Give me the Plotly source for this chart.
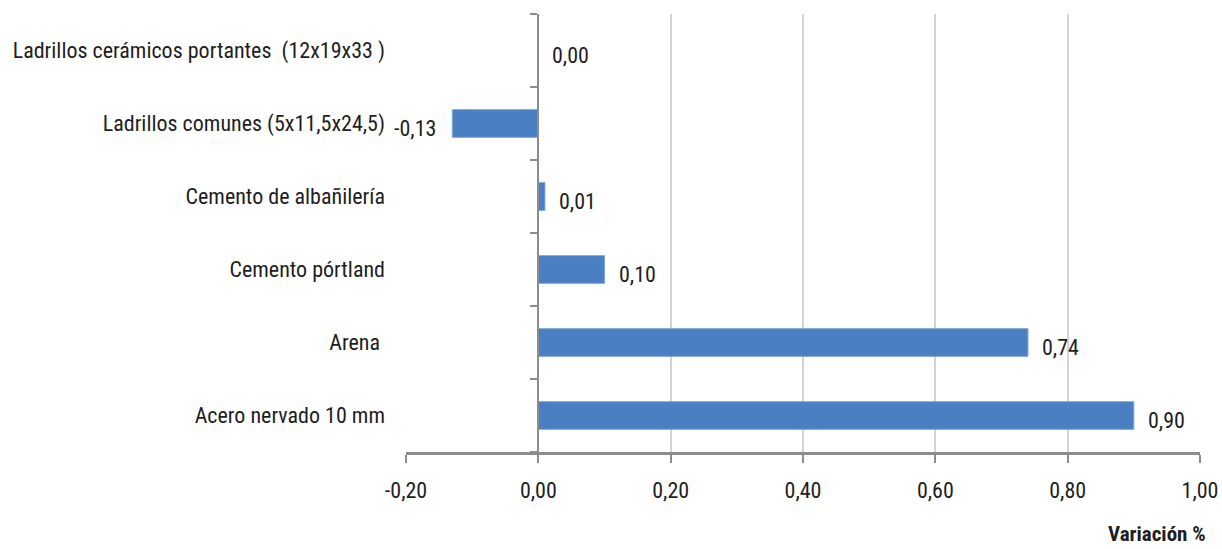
import plotly.graph_objects as go

categories = [
    "Ladrillos cerámicos portantes  (12x19x33 )",
    "Ladrillos comunes (5x11,5x24,5)",
    "Cemento de albañilería",
    "Cemento pórtland",
    "Arena ",
    "Acero nervado 10 mm",
]
values = [0.00, -0.13, 0.01, 0.10, 0.74, 0.90]
x_ticks = [-0.2, 0.0, 0.2, 0.4, 0.6, 0.8, 1.0]
x_tick_labels = ["-0,20", "0,00", "0,20", "0,40", "0,60", "0,80", "1,00"]
x_title = "Variación %"

FONT = "Liberation Sans Narrow, Arial Narrow, Roboto Condensed, Liberation Sans, sans-serif"
BAR = "#4A7FC1"
TXT = "#1E1E1E"

fig = go.Figure()
fig.add_trace(go.Bar(
    x=values, y=categories, orientation="h",
    marker=dict(color=BAR, line=dict(color="#7FA6D6", width=1)),
    hoverinfo="skip", showlegend=False,
))
fig.add_trace(go.Scatter(x=[0], y=[categories[0]], yaxis="y2", mode="markers",
                         marker=dict(opacity=0), showlegend=False, hoverinfo="skip"))

for c, v in zip(categories, values):
    neg = v < 0
    fig.add_annotation(
        x=v, y=c, text=f"{v:.2f}".replace(".", ","), showarrow=False,
        xanchor="right" if neg else "left", xshift=-14 if neg else 12, yshift=-5,
        font=dict(family=FONT, size=22, color=TXT),
    )

fig.add_annotation(
    x=1.0, y=0, xref="paper", yref="paper", xanchor="right", yanchor="middle",
    xshift=8, yshift=-82, text=f"<b>{x_title}</b>", showarrow=False,
    font=dict(family=FONT, size=21, color=TXT),
)

pos0 = (0 - x_ticks[0]) / (x_ticks[-1] - x_ticks[0])

fig.update_layout(
    width=1222, height=549,
    margin=dict(l=406, r=22, t=14, b=97),
    paper_bgcolor="white", plot_bgcolor="white",
    bargap=0.62,
    font=dict(family=FONT, size=22, color=TXT),
    xaxis=dict(
        range=[x_ticks[0], x_ticks[-1]], tickvals=x_ticks, ticktext=x_tick_labels,
        showgrid=True, gridcolor="#D4D4D4", gridwidth=1.5,
        zeroline=False,
        showline=True, linecolor="#8C8C8C", linewidth=3,
        ticks="outside", ticklen=8, tickcolor="#8C8C8C", tickwidth=1.5,
        ticklabelstandoff=9,
        tickfont=dict(family=FONT, size=22, color=TXT),
        domain=[0, 1], automargin=False,
    ),
    yaxis=dict(
        categoryorder="array", categoryarray=categories[::-1],
        range=[-0.5, len(categories) - 0.5],
        showline=False, ticks="", showgrid=False, zeroline=False,
        ticklabelstandoff=20, automargin=False,
        tickfont=dict(family=FONT, size=22, color=TXT),
    ),
    yaxis2=dict(
        overlaying="y", matches="y", anchor="free", position=pos0,
        side="left",
        categoryorder="array", categoryarray=categories[::-1],
        showticklabels=False, showgrid=False, zeroline=False,
        showline=True, linecolor="#8C8C8C", linewidth=2,
        ticks="outside", tickson="boundaries", ticklen=7,
        tickcolor="#8C8C8C", tickwidth=1.5,
    ),
)

fig.write_html(
    "out.html",
    config={"displayModeBar": False},
    post_script="document.body.style.margin='0';document.body.style.overflow='hidden';",
)
